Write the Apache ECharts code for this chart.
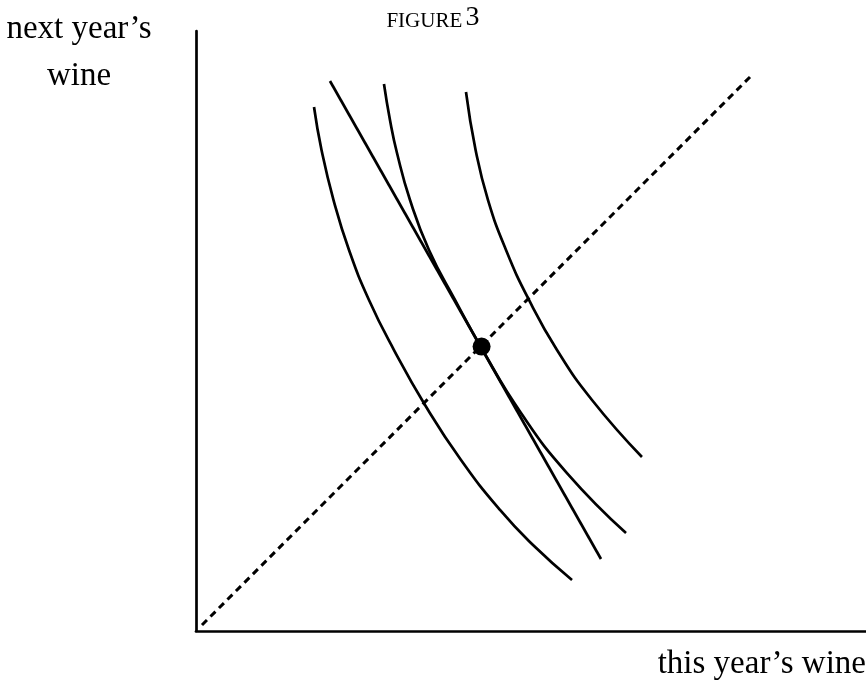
<!DOCTYPE html>
<html>
<head>
<meta charset="utf-8">
<script src="https://cdn.jsdelivr.net/npm/echarts@6/dist/echarts.min.js"></script>
<style>html,body{margin:0;padding:0;background:#fff;}#c{width:866px;height:682px;}</style>
</head>
<body>
<div id="c"></div>
<script>
// Units: this year's wine (x) and next year's wine (y), arbitrary units
const curveLow = [[19.67,87.33],[20.92,80.17],[22.92,71.83],[25.5,63.5],[28.83,55.17],[33,46.83],[38.17,37.67],[44.17,28.5],[50.67,20.17],[56.17,14.33],[62.67,8.5]];
const curveMid = [[31.33,91.17],[32.33,85.17],[33.5,79.67],[35.67,71.83],[38.83,63.5],[43.17,55.17],[47.67,47],[54.17,36.33],[61.83,26.33],[71.67,16.33]];
const curveHigh = [[45,89.83],[46.6,80.17],[48.67,71.83],[51.67,63.5],[55.5,55.17],[60.17,46.83],[66,38.5],[74.33,29]];
const budgetLine = [[22.33,91.67],[67.5,12]];
const diagonal = [[1,1],[92.5,92.5]];
const optimum = [[47.6,47.4]];
const xLabel = "this year’s wine";
const yLabel = ["next year’s", "wine"];
const titleText = "FIGURE";
const titleNum = "3";

const chart = echarts.init(document.getElementById('c'));
const serif = '"Liberation Serif", "DejaVu Serif", serif';
const solid = {color:'#000', width:2.7};
function curve(d){ return {type:'line', data:d, smooth:0.5, symbol:'none', lineStyle:solid, silent:true}; }
chart.setOption({
  animation:false,
  backgroundColor:'#fff',
  grid:{left:196, right:0, top:31, bottom:51},
  xAxis:{type:'value', min:0, max:111.67, axisLine:{lineStyle:{color:'#000', width:2.7}}, axisTick:{show:false}, axisLabel:{show:false}, splitLine:{show:false}},
  yAxis:{type:'value', min:0, max:100, axisLine:{show:true, lineStyle:{color:'#000', width:2.7}}, axisTick:{show:false}, axisLabel:{show:false}, splitLine:{show:false}},
  series:[
    curve(curveLow), curve(curveMid), curve(curveHigh),
    {type:'line', data:budgetLine, symbol:'none', lineStyle:solid, silent:true},
    {type:'line', data:diagonal, symbol:'none', lineStyle:{color:'#000', width:3, type:[7,5]}, silent:true},
    {type:'scatter', data:optimum, symbol:'circle', symbolSize:18, itemStyle:{color:'#000', opacity:1}, silent:true, z:5}
  ],
  graphic:[
    {type:'text', left:'center', top:4, style:{text:'{a|'+titleText+'} {b|'+titleNum+'}', rich:{a:{fontFamily:serif, fontSize:21, fill:'#000', verticalAlign:'bottom'}, b:{fontFamily:serif, fontSize:28, fill:'#000', verticalAlign:'bottom'}}}},
    {type:'text', x:79, y:29, style:{text:yLabel[0], font:'33px '+serif, fill:'#000', align:'center', verticalAlign:'middle'}},
    {type:'text', x:79, y:76, style:{text:yLabel[1], font:'33px '+serif, fill:'#000', align:'center', verticalAlign:'middle'}},
    {type:'text', x:866, y:664, style:{text:xLabel, font:'33px '+serif, fill:'#000', align:'right', verticalAlign:'middle'}}
  ]
});
</script>
</body>
</html>
